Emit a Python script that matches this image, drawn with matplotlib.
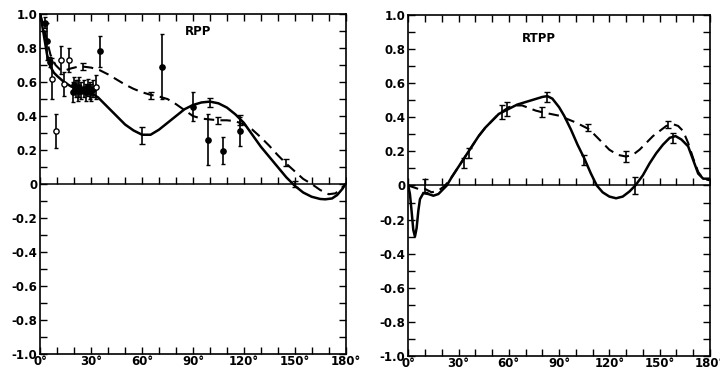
import numpy as np
import matplotlib.pyplot as plt
from matplotlib.ticker import MultipleLocator, FuncFormatter

# ---- RPP (left panel) ----
rpp_solid_x = [0, 2, 4, 6, 8, 10, 14, 18, 22, 26, 30, 34, 38, 42, 46, 50, 55, 60, 65, 70,
               75, 80, 85, 90, 95, 100, 105, 110, 115, 120, 125, 130, 135, 140, 145, 150,
               155, 160, 165, 168, 172, 175, 178, 180]
rpp_solid_y = [1.0, 0.88, 0.76, 0.69, 0.655, 0.635, 0.60, 0.575, 0.56, 0.55, 0.535, 0.51,
               0.47, 0.43, 0.39, 0.35, 0.315, 0.29, 0.29, 0.32, 0.36, 0.40, 0.44, 0.465,
               0.48, 0.485, 0.475, 0.45, 0.41, 0.36, 0.29, 0.22, 0.16, 0.10, 0.04, -0.01,
               -0.05, -0.075, -0.088, -0.09, -0.085, -0.065, -0.03, 0.0]
rpp_dash_x = [0, 3, 6, 9, 12, 15, 18, 22, 26, 30, 35, 40, 45, 50, 55, 60, 65, 70, 75, 80,
              85, 90, 95, 100, 105, 110, 115, 120, 125, 130, 135, 140, 145, 150, 155, 160,
              165, 170, 174, 177, 180]
rpp_dash_y = [1.0, 0.88, 0.76, 0.70, 0.67, 0.67, 0.68, 0.69, 0.69, 0.685, 0.67, 0.645,
              0.615, 0.585, 0.56, 0.54, 0.525, 0.515, 0.50, 0.47, 0.435, 0.40, 0.385, 0.38,
              0.375, 0.375, 0.37, 0.35, 0.32, 0.275, 0.225, 0.17, 0.12, 0.075, 0.03, 0.0,
              -0.035, -0.06, -0.055, -0.03, 0.0]

# measured points: filled circles
rpp_fill_x = [3, 4, 6, 19, 20, 21, 22, 23, 24, 26, 27, 28, 29, 30, 31, 35, 72, 90, 99, 108, 118]
rpp_fill_y = [0.95, 0.84, 0.72, 0.54, 0.58, 0.56, 0.55, 0.57, 0.55, 0.56, 0.54, 0.57, 0.55,
              0.54, 0.56, 0.78, 0.69, 0.455, 0.26, 0.195, 0.31]
rpp_fill_e = [0.03, 0.11, 0.03, 0.06, 0.05, 0.05, 0.06, 0.06, 0.05, 0.05, 0.05, 0.05, 0.05,
              0.05, 0.05, 0.09, 0.19, 0.085, 0.15, 0.08, 0.085]
# open circles
rpp_open_x = [7, 9, 12, 14, 17, 33]
rpp_open_y = [0.62, 0.31, 0.73, 0.59, 0.73, 0.57]
rpp_open_e = [0.12, 0.10, 0.08, 0.07, 0.07, 0.07]
# error bars without symbol
rpp_bar_x = [25, 60, 65, 100, 105, 118, 145, 150]
rpp_bar_y = [0.69, 0.285, 0.52, 0.48, 0.375, 0.375, 0.125, 0.0]
rpp_bar_e = [0.02, 0.05, 0.02, 0.025, 0.02, 0.03, 0.02, 0.015]

# ---- RTPP (right panel) ----
rtpp_solid_x = [0, 1, 2, 3, 4, 5, 6, 7, 9, 12, 15, 18, 21, 23, 26, 30, 34, 38, 42, 46, 50,
                54, 60, 65, 70, 75, 80, 83, 86, 90, 93, 97, 101, 105, 109, 112.5, 116, 120,
                124, 128, 132, 135.5, 140, 144, 148, 152, 156, 159.5, 163, 167, 170, 173,
                176, 178, 180]
rtpp_solid_y = [0.0, -0.05, -0.15, -0.26, -0.30, -0.25, -0.15, -0.08, -0.045, -0.05, -0.06,
                -0.05, -0.02, 0.0, 0.05, 0.11, 0.17, 0.23, 0.29, 0.34, 0.38, 0.42, 0.45,
                0.475, 0.49, 0.505, 0.52, 0.525, 0.51, 0.46, 0.41, 0.33, 0.24, 0.16, 0.07,
                0.0, -0.04, -0.065, -0.075, -0.065, -0.035, 0.0, 0.06, 0.13, 0.19, 0.24,
                0.28, 0.29, 0.27, 0.23, 0.15, 0.07, 0.04, 0.04, 0.04]
rtpp_dash_x = [0, 3, 6, 10, 14, 18, 22, 26, 30, 34, 38, 42, 46, 50, 54, 60, 64, 68, 72, 76,
               80, 85, 90, 95, 100, 104, 108, 112, 116, 120, 125, 130, 134, 138, 142, 146,
               150, 154, 158, 161, 164, 167, 170, 173, 176, 180]
rtpp_dash_y = [0.0, -0.01, -0.02, -0.02, -0.04, -0.03, 0.0, 0.05, 0.11, 0.17, 0.23, 0.29,
               0.34, 0.38, 0.42, 0.46, 0.47, 0.47, 0.455, 0.44, 0.43, 0.42, 0.41, 0.39,
               0.37, 0.35, 0.33, 0.29, 0.25, 0.21, 0.18, 0.17, 0.18, 0.21, 0.25, 0.29,
               0.32, 0.35, 0.36, 0.35, 0.32, 0.25, 0.16, 0.08, 0.04, 0.03]
rtpp_bar_x = [10, 33, 36, 56, 59, 80, 83, 105, 107, 130, 135, 155, 158]
rtpp_bar_y = [0.0, 0.13, 0.19, 0.43, 0.45, 0.43, 0.52, 0.15, 0.34, 0.17, 0.0, 0.36, 0.28]
rtpp_bar_e = [0.04, 0.03, 0.03, 0.04, 0.04, 0.03, 0.03, 0.03, 0.02, 0.03, 0.05, 0.02, 0.03]

x_ticks = [0, 30, 60, 90, 120, 150, 180]
y_ticks = [-1.0, -0.8, -0.6, -0.4, -0.2, 0, 0.2, 0.4, 0.6, 0.8, 1.0]


def yfmt(v, pos):
    if abs(v) < 1e-9:
        return '0'
    return '%.1f' % v


def setup(ax):
    ax.set_xlim(0, 180)
    ax.set_ylim(-1.0, 1.0)
    ax.set_xticks(x_ticks)
    ax.set_xticklabels(['%d°' % t for t in x_ticks])
    ax.xaxis.set_minor_locator(MultipleLocator(10))
    ax.set_yticks(y_ticks)
    ax.yaxis.set_major_formatter(FuncFormatter(yfmt))
    ax.yaxis.set_minor_locator(MultipleLocator(0.1))
    ax.tick_params(which='both', direction='in', top=True, right=True, width=1.0,
                   labelsize=8.5, length=5)
    ax.tick_params(axis='x', pad=1)
    ax.tick_params(axis='y', pad=2)
    for lab in ax.get_xticklabels() + ax.get_yticklabels():
        lab.set_fontweight('bold')
    for s in ax.spines.values():
        s.set_linewidth(1.2)
    # zero line with small upward ticks
    ax.axhline(0, color='black', lw=1.1)
    xt = np.arange(0, 181, 10)
    ax.plot(xt, np.zeros_like(xt), ls='none', marker=2, ms=5, mew=1.0, color='black')


fig = plt.figure(figsize=(7.2, 3.71), dpi=100)
ax1 = fig.add_axes([0.056, 0.046, 0.424, 0.916])
ax2 = fig.add_axes([0.567, 0.041, 0.419, 0.918])

setup(ax1)
ax1.plot(rpp_solid_x, rpp_solid_y, color='black', lw=1.8)
ax1.plot(rpp_dash_x, rpp_dash_y, color='black', lw=1.5, dashes=(5, 3))
ax1.errorbar(rpp_fill_x, rpp_fill_y, yerr=rpp_fill_e, fmt='o', ms=3.8, color='black',
             elinewidth=1.2, capsize=1.5)
ax1.errorbar(rpp_open_x, rpp_open_y, yerr=rpp_open_e, fmt='o', ms=3.8, mfc='white',
             mec='black', color='black', elinewidth=1.2, capsize=1.5)
ax1.errorbar(rpp_bar_x, rpp_bar_y, yerr=rpp_bar_e, fmt='none', ecolor='black',
             elinewidth=1.2, capsize=2)
ax1.text(93, 0.9, 'RPP', fontsize=8.5, fontweight='bold', ha='center', va='center')

setup(ax2)
ax2.plot(rtpp_solid_x, rtpp_solid_y, color='black', lw=1.8)
ax2.plot(rtpp_dash_x, rtpp_dash_y, color='black', lw=1.5, dashes=(5, 3))
ax2.errorbar(rtpp_bar_x, rtpp_bar_y, yerr=rtpp_bar_e, fmt='none', ecolor='black',
             elinewidth=1.2, capsize=2)
ax2.text(78, 0.865, 'RTPP', fontsize=8.5, fontweight='bold', ha='center', va='center')

fig.savefig('out.png', dpi=100)
